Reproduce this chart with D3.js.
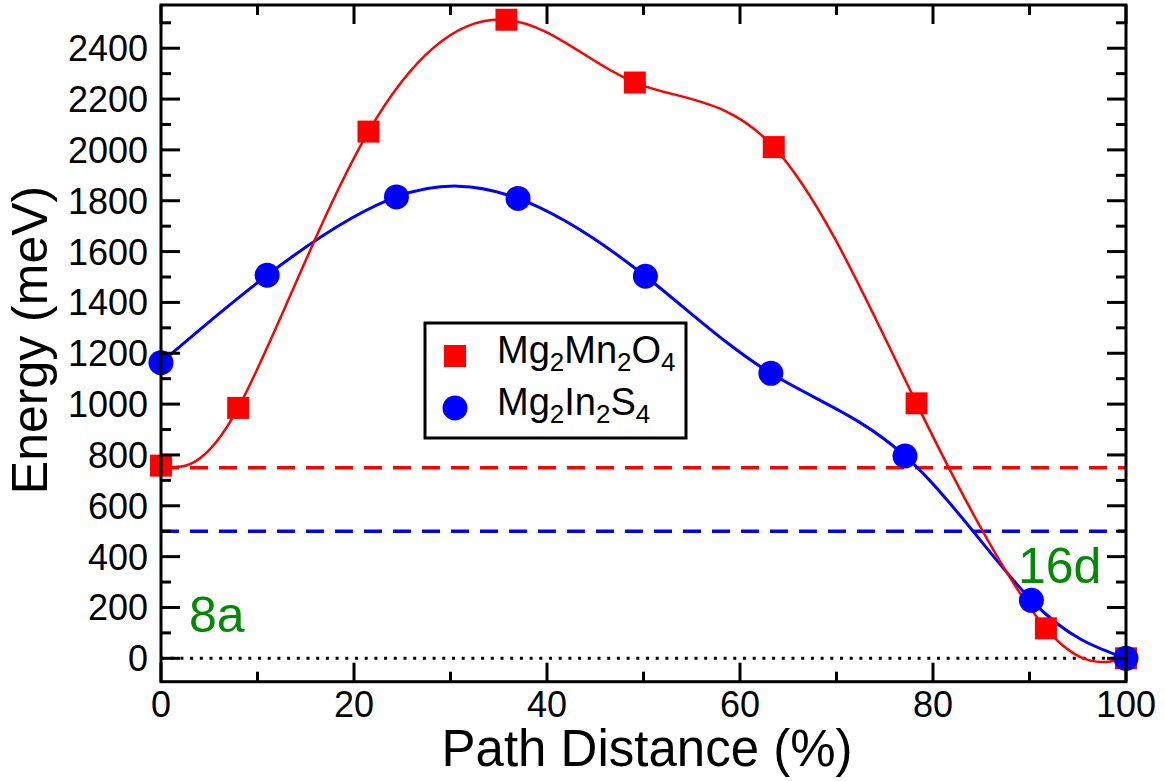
<!DOCTYPE html>
<html>
<head>
<meta charset="utf-8">
<script src="https://cdn.jsdelivr.net/npm/d3@7"></script>
<style>
  html, body { margin: 0; padding: 0; background: #fff; }
  svg { display: block; }
  text { font-family: "Liberation Sans", Arial, Helvetica, sans-serif; }
</style>
</head>
<body>
<svg id="chart" width="1165" height="781"></svg>
<script>
// ---- data ----
const mnX = [0, 8, 21.5, 35.8, 49.1, 63.5, 78.3, 91.7, 100];
const mnY = [758, 985, 2072, 2512, 2265, 2011, 1003, 118, 0];
const inX = [0, 11, 24.4, 37.0, 50.2, 63.2, 77.1, 90.2, 100];
const inY = [1163, 1507, 1815, 1809, 1503, 1121, 796, 228, 0];
const refLines = [750, 500];           // dashed reference levels (red, blue)
const xTicks = [0, 20, 40, 60, 80, 100];
const xMinor = [10, 30, 50, 70, 90];
const yTicks = [0, 200, 400, 600, 800, 1000, 1200, 1400, 1600, 1800, 2000, 2200, 2400];
const yMinor = [100, 300, 500, 700, 900, 1100, 1300, 1500, 1700, 1900, 2100, 2300, 2500];
const seriesNames = ["Mg2Mn2O4", "Mg2In2S4"];
const siteLabels = ["8a", "16d"];

// ---- layout ----
const L = 161, R = 1126, T = 5, B = 681.7;
const svg = d3.select("#chart");
const x = d3.scaleLinear().domain([0, 100]).range([L, R]);
const y = d3.scaleLinear().domain([-92, 2570]).range([B, T]);
const RED = "#ff0000", BLUE = "#0000ff", GREEN = "#008b00";

// reference lines
svg.append("line").attr("x1", x(0)).attr("x2", x(100))
  .attr("y1", y(0)).attr("y2", y(0))
  .attr("stroke", "#000").attr("stroke-width", 3).attr("stroke-dasharray", "3,6.7");
svg.append("line").attr("x1", x(0)).attr("x2", x(100))
  .attr("y1", y(refLines[0])).attr("y2", y(refLines[0]))
  .attr("stroke", RED).attr("stroke-width", 3.5).attr("stroke-dasharray", "18,11");
svg.append("line").attr("x1", x(0)).attr("x2", x(100))
  .attr("y1", y(refLines[1])).attr("y2", y(refLines[1]))
  .attr("stroke", BLUE).attr("stroke-width", 3.5).attr("stroke-dasharray", "18,11");

const mn = mnX.map((v, i) => [v, mnY[i]]);
const ins = inX.map((v, i) => [v, inY[i]]);
const line = d3.line().x(d => x(d[0])).y(d => y(d[1])).curve(d3.curveNatural);

svg.append("path").attr("d", line(ins)).attr("fill", "none")
  .attr("stroke", BLUE).attr("stroke-width", 3);
svg.append("path").attr("d", line(mn)).attr("fill", "none")
  .attr("stroke", RED).attr("stroke-width", 2.5);

// markers
const S = 22;
svg.selectAll("rect.mn").data(mn).enter().append("rect")
  .attr("x", d => x(d[0]) - S / 2).attr("y", d => y(d[1]) - S / 2)
  .attr("width", S).attr("height", S).attr("fill", RED);
svg.selectAll("circle.in").data(ins).enter().append("circle")
  .attr("cx", d => x(d[0])).attr("cy", d => y(d[1])).attr("r", 12.5)
  .attr("fill", BLUE);

// frame
svg.append("rect").attr("x", L).attr("y", T).attr("width", R - L).attr("height", B - T)
  .attr("fill", "none").attr("stroke", "#000").attr("stroke-width", 3);

// ticks (inward, all four sides)
const tk = svg.append("g").attr("stroke", "#000").attr("stroke-width", 3);
const MJ = 19, MN = 10;
xTicks.forEach(v => {
  tk.append("line").attr("x1", x(v)).attr("x2", x(v)).attr("y1", B).attr("y2", B - MJ);
  tk.append("line").attr("x1", x(v)).attr("x2", x(v)).attr("y1", T).attr("y2", T + MJ);
});
xMinor.forEach(v => {
  tk.append("line").attr("x1", x(v)).attr("x2", x(v)).attr("y1", B).attr("y2", B - MN);
  tk.append("line").attr("x1", x(v)).attr("x2", x(v)).attr("y1", T).attr("y2", T + MN);
});
yTicks.forEach(v => {
  tk.append("line").attr("y1", y(v)).attr("y2", y(v)).attr("x1", L).attr("x2", L + MJ);
  tk.append("line").attr("y1", y(v)).attr("y2", y(v)).attr("x1", R).attr("x2", R - MJ);
});
yMinor.forEach(v => {
  tk.append("line").attr("y1", y(v)).attr("y2", y(v)).attr("x1", L).attr("x2", L + MN);
  tk.append("line").attr("y1", y(v)).attr("y2", y(v)).attr("x1", R).attr("x2", R - MN);
});

// tick labels
svg.selectAll("text.xt").data(xTicks).enter().append("text")
  .attr("x", d => x(d)).attr("y", 717).attr("text-anchor", "middle")
  .attr("font-size", 36).text(d => d);
svg.selectAll("text.yt").data(yTicks).enter().append("text")
  .attr("x", 148).attr("y", d => y(d)).attr("dy", "0.36em").attr("text-anchor", "end")
  .attr("font-size", 36).text(d => d);

// axis titles
svg.append("text").attr("x", 647).attr("y", 766).attr("text-anchor", "middle")
  .attr("font-size", 51).text("Path Distance (%)");
svg.append("text").attr("transform", "translate(47,340) rotate(-90)")
  .attr("text-anchor", "middle").attr("font-size", 50).text("Energy (meV)");

// site labels
svg.append("text").attr("x", 189).attr("y", 632).attr("font-size", 50)
  .attr("fill", GREEN).text(siteLabels[0]);
svg.append("text").attr("x", 1018).attr("y", 583).attr("font-size", 50)
  .attr("fill", GREEN).text(siteLabels[1]);

// legend
const lg = svg.append("g");
lg.append("rect").attr("x", 425).attr("y", 323).attr("width", 261).attr("height", 115)
  .attr("fill", "#fff").attr("stroke", "#000").attr("stroke-width", 3);
lg.append("rect").attr("x", 455 - S / 2).attr("y", 356 - S / 2).attr("width", S).attr("height", S)
  .attr("fill", RED);
lg.append("circle").attr("cx", 455).attr("cy", 408).attr("r", 12.5).attr("fill", BLUE);

function chem(g, xx, yy, name) {
  const t = g.append("text").attr("x", xx).attr("y", yy).attr("font-size", 38);
  const parts = name.match(/[A-Za-z]+|\d+/g);
  let shifted = false;
  parts.forEach(p => {
    if (/\d/.test(p)) {
      t.append("tspan").attr("font-size", 26).attr("dy", 8).text(p);
      shifted = true;
    } else {
      const ts = t.append("tspan").attr("font-size", 38).text(p);
      if (shifted) { ts.attr("dy", -8); shifted = false; }
    }
  });
}
chem(lg, 497, 363, seriesNames[0]);
chem(lg, 497, 415, seriesNames[1]);
</script>
</body>
</html>
